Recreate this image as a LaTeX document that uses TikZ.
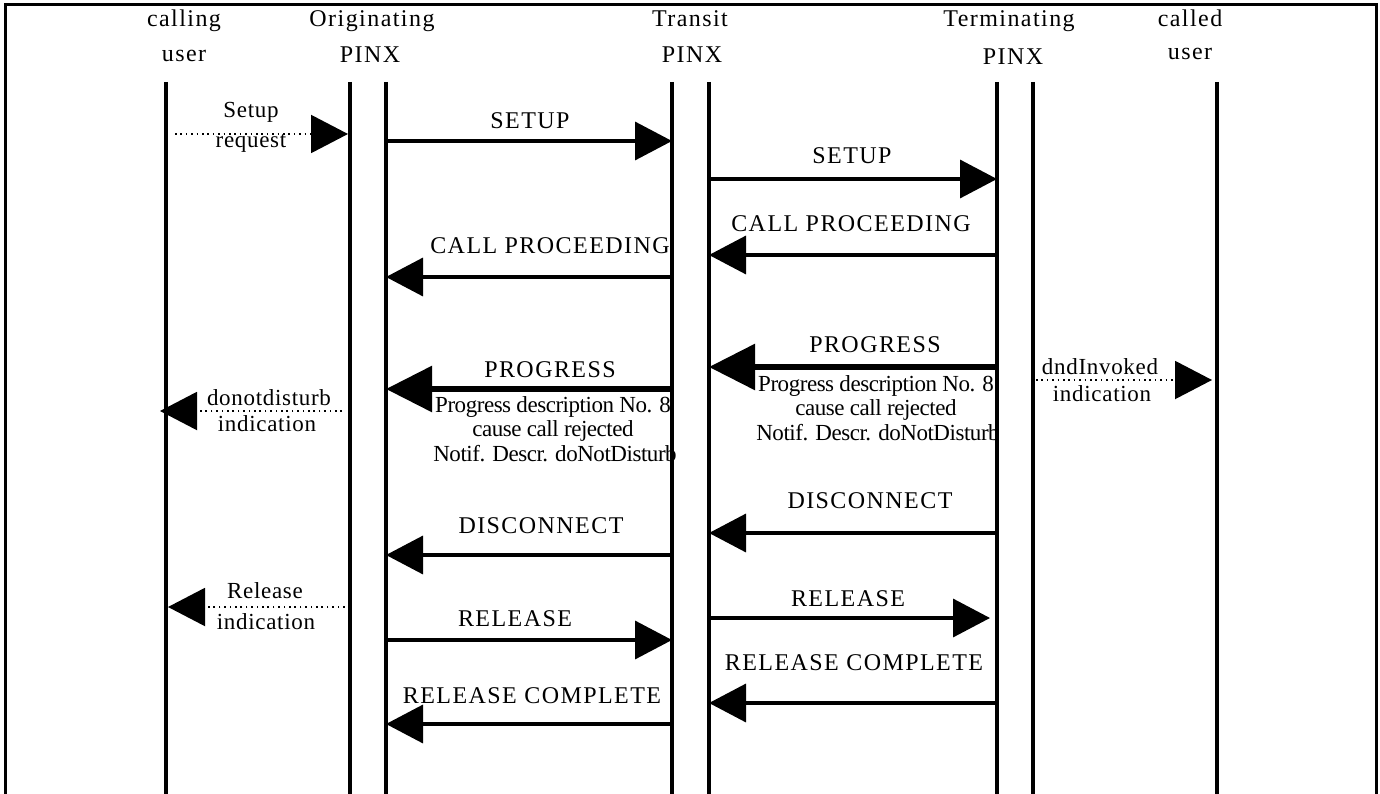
\documentclass[tikz,border=0pt]{standalone}
\usepackage{fontspec}
\setmainfont{Liberation Serif}
\newfontfamily\lblfont[LetterSpace=6]{Liberation Serif}
\newfontfamily\smallfont[LetterSpace=3]{Liberation Serif}
\newfontfamily\condfont[LetterSpace=-2]{Liberation Serif}
\usetikzlibrary{arrows.meta}
\tikzset{
  frameline/.style={line width=3pt},
  lifeline/.style={line width=3.5pt},
  msg/.style={line width=3.5pt,-{Triangle[length=37pt,width=38pt]}},
  bigmsg/.style={line width=6pt,-{Triangle[length=46pt,width=45pt]}},
  ind/.style={line width=2pt,dash pattern=on 1.6pt off 3.8pt,-{Triangle[length=37pt,width=38pt]}},
  lab/.style={anchor=base,inner sep=0pt,font=\lblfont\fontsize{24}{28}\selectfont},
  sublab/.style={anchor=base,inner sep=0pt,font=\condfont\fontsize{23}{26}\selectfont},
  smalllab/.style={anchor=base,inner sep=0pt,font=\smallfont\fontsize{23}{26}\selectfont}
}
\begin{document}
\begin{tikzpicture}[x=1pt,y=-1pt]
\useasboundingbox (0,0) rectangle (1380,794);
\draw[frameline] (5,800) -- (5,5) -- (1376,5) -- (1376,800);

% headers
\node[lab] (h1a) at (184,27) {calling};
\node[lab] (h1b) at (184,62) {user};
\node[lab] (h2a) at (372,27) {Originating};
\node[lab] (h2b) at (370,63) {PINX};
\node[lab] (h3a) at (690,27) {Transit};
\node[lab] (h3b) at (692,63) {PINX};
\node[lab] (h4a) at (1009,27) {Terminating};
\node[lab] (h4b) at (1013,65) {PINX};
\node[lab] (h5a) at (1190,27) {called};
\node[lab] (h5b) at (1190,60) {user};

% lifelines
\foreach \n/\x in {A/166,B/350,C/386,D/672,E/709,F/997,G/1033,H/1217}{
  \coordinate (\n t) at (\x,82);
  \coordinate (\n b) at (\x,800);
  \draw[lifeline] (\n t) -- (\n b);
}

% Setup request
\coordinate (sr1) at (175,134); \coordinate (sr2) at (348,134);
\draw[ind] (sr1) -- (sr2);
\node[smalllab] (srl1) at (251,118) {Setup};
\node[smalllab] (srl2) at (251,148) {request};

% SETUP left
\coordinate (s1a) at (386,141); \coordinate (s1b) at (672,141);
\draw[msg] (s1a) -- (s1b);
\node[lab] (s1l) at (530,129) {SETUP};
% SETUP right
\coordinate (s2a) at (709,179); \coordinate (s2b) at (997,179);
\draw[msg] (s2a) -- (s2b);
\node[lab] (s2l) at (852,164) {SETUP};

% CALL PROCEEDING right
\coordinate (c2a) at (997,255); \coordinate (c2b) at (709,255);
\draw[msg] (c2a) -- (c2b);
\node[lab] (c2l) at (851,232) {CALL PROCEEDING};
% CALL PROCEEDING left
\coordinate (c1a) at (672,277); \coordinate (c1b) at (386,277);
\draw[msg] (c1a) -- (c1b);
\node[lab] (c1l) at (550,253) {CALL PROCEEDING};

% PROGRESS right
\coordinate (p2a) at (997,367); \coordinate (p2b) at (709,367);
\draw[bigmsg] (p2a) -- (p2b);
\node[lab] (p2l) at (875,352) {PROGRESS};
\node[sublab] (p2s1) at (876,391) {Progress description No. 8};
\node[sublab] (p2s2) at (876,415) {cause call rejected};
\node[sublab] (p2s3) at (878,440) {Notif. Descr. doNotDisturb};

% PROGRESS left
\coordinate (p1a) at (672,389); \coordinate (p1b) at (386,389);
\draw[bigmsg] (p1a) -- (p1b);
\node[lab] (p1l) at (550,377) {PROGRESS};
\node[sublab] (p1s1) at (553,412) {Progress description No. 8};
\node[sublab] (p1s2) at (553,436) {cause call rejected};
\node[sublab] (p1s3) at (555,461) {Notif. Descr. doNotDisturb};

% dndInvoked indication
\coordinate (d2a) at (1036,380); \coordinate (d2b) at (1212,380);
\draw[ind] (d2a) -- (d2b);
\node[smalllab] (d2l1) at (1100,374) {dndInvoked};
\node[smalllab] (d2l2) at (1102,401) {indication};

% donotdisturb indication
\coordinate (d1a) at (342,411); \coordinate (d1b) at (160,411);
\draw[ind] (d1a) -- (d1b);
\node[smalllab] (d1l1) at (269,405) {donotdisturb};
\node[smalllab] (d1l2) at (267,431) {indication};

% DISCONNECT
\coordinate (x2a) at (997,533); \coordinate (x2b) at (709,533);
\draw[msg] (x2a) -- (x2b);
\node[lab] (x2l) at (870,508) {DISCONNECT};
\coordinate (x1a) at (672,555); \coordinate (x1b) at (386,555);
\draw[msg] (x1a) -- (x1b);
\node[lab] (x1l) at (541,533) {DISCONNECT};

% Release indication
\coordinate (r0a) at (350,607); \coordinate (r0b) at (168,607);
\draw[ind] (r0a) -- (r0b);
\node[smalllab] (r0l1) at (265,598) {Release};
\node[smalllab] (r0l2) at (266,629) {indication};

% RELEASE
\coordinate (r2a) at (709,618); \coordinate (r2b) at (990,618);
\draw[msg] (r2a) -- (r2b);
\node[lab] (r2l) at (848,606) {RELEASE};
\coordinate (r1a) at (386,640); \coordinate (r1b) at (672,640);
\draw[msg] (r1a) -- (r1b);
\node[lab] (r1l) at (515,626) {RELEASE};

% RELEASE COMPLETE
\coordinate (rc2a) at (997,703); \coordinate (rc2b) at (709,703);
\draw[msg] (rc2a) -- (rc2b);
\node[lab] (rc2l) at (854,670) {RELEASE COMPLETE};
\coordinate (rc1a) at (672,724); \coordinate (rc1b) at (386,724);
\draw[msg] (rc1a) -- (rc1b);
\node[lab] (rc1l) at (532,703) {RELEASE COMPLETE};
\end{tikzpicture}
\end{document}
